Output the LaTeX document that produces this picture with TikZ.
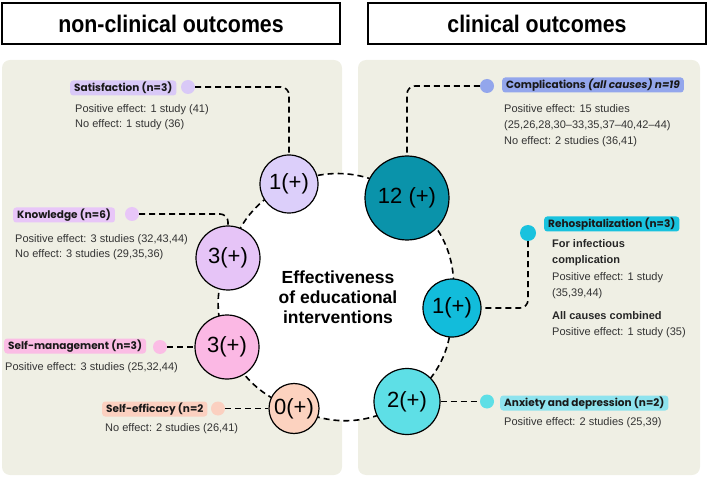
\documentclass[tikz,border=0pt]{standalone}
\usepackage{fontspec}
\usepackage{graphicx}
\setmainfont{Liberation Sans}
\newfontfamily\tagfont{Poppins}
\usetikzlibrary{positioning}
\definecolor{panelbg}{HTML}{EFEFE4}
\definecolor{desctext}{HTML}{333333}
\definecolor{csat}{HTML}{DCCFFA}
\definecolor{cknow}{HTML}{E6C4F7}
\definecolor{cselfm}{HTML}{FBB8E4}
\definecolor{cselfe}{HTML}{FCD2BF}
\definecolor{ccompl}{HTML}{0A93AA}
\definecolor{crehosp}{HTML}{12BCDB}
\definecolor{canx}{HTML}{5EDFE6}
\definecolor{tsat}{HTML}{D9C9F7}
\definecolor{tknow}{HTML}{E8C6F8}
\definecolor{tselfm}{HTML}{FBBDE5}
\definecolor{tselfe}{HTML}{FBD0C0}
\definecolor{tcompl}{HTML}{93A6EC}
\definecolor{trehosp}{HTML}{19C2DE}
\definecolor{tanx}{HTML}{8EE3EE}
\tikzset{
	panel/.style={fill=panelbg, rounded corners=8pt},
	header/.style={draw, line width=1.5pt, minimum width=338pt, minimum height=41pt,
		font=\bfseries\fontsize{24}{26}\selectfont},
	ring/.style={dash pattern=on 6pt off 4pt, line width=1.6pt},
	link/.style={ring, rounded corners=8pt},
	outc/.style={circle, draw, line width=1.2pt, inner sep=0pt, font=\fontsize{22}{24}\selectfont},
	dot/.style={circle, inner sep=0pt, minimum size=14pt},
	tag/.style={rounded corners=3pt, inner xsep=4pt, inner ysep=0pt, minimum height=15pt,
		anchor=west, text=black!90, font=\tagfont\bfseries\fontsize{10.5}{11}\selectfont},
	desc/.style={anchor=north west, inner sep=0pt, align=left, text=desctext,
		font=\fontsize{11}{15}\selectfont},
}
\begin{document}
\begin{tikzpicture}[x=1pt, y=-1pt]
		\useasboundingbox (0,0) rectangle (709,478);

		% the headers and panels
		\node[header] (hnon) at (171,23.5) {\scalebox{0.89}[1]{non-clinical outcomes}};
		\node[header] (hclin) at (537,23.5) {\scalebox{0.89}[1]{clinical outcomes}};
		\fill[panel] (2,60) rectangle (342,475);
		\fill[panel] (358,60) rectangle (700,475);

		% the ring
		\coordinate (sat) at (289,184);
		\coordinate (know) at (228,258);
		\coordinate (selfm) at (227,347);
		\coordinate (selfe) at (294,408.5);
		\coordinate (compl) at (407,198);
		\coordinate (rehosp) at (452,308);
		\coordinate (anx) at (407,401.5);
		\filldraw[ring, fill=white] (sat) to[bend left=29] (compl) to[bend left=31] (rehosp)
			to[bend left=26] (anx) to[bend left=28] (selfe) to[bend left=21] (selfm)
			to[bend left=21] (know) to[bend left=23] (sat) -- cycle;

		\node[outc, fill=csat, minimum size=58pt] (satc) at (sat) {1(+)};
		\node[outc, fill=cknow, minimum size=64pt] (knowc) at (know) {3(+)};
		\node[outc, fill=cselfm, minimum size=64pt] (selfmc) at (selfm) {3(+)};
		\node[outc, fill=cselfe, minimum size=50pt] (selfec) at (selfe) {0(+)};
		\node[outc, fill=ccompl, minimum size=84pt] (complc) at (compl) {12 (+)};
		\node[outc, fill=crehosp, minimum size=58pt] (rehospc) at (rehosp) {1(+)};
		\node[outc, fill=canx, minimum size=66pt] (anxc) at (anx) {2(+)};

		\node[font=\bfseries\fontsize{17.5}{20}\selectfont, align=center] (title) at (338,297)
			{Effectiveness\\of educational\\interventions};

		% non-clinical outcomes
		\node[tag, fill=tsat] (sattag) at (70,88) {Satisfaction (n=3)};
		\node[dot, fill=tsat] (satdot) at (188,87) {};
		\node[desc] (satdesc) at (75,104) {Positive effect: 1 study (41)\\No effect: 1 study (36)};

		\node[tag, fill=tknow] (knowtag) at (13,215) {Knowledge (n=6)};
		\node[dot, fill=tknow] (knowdot) at (132,214) {};
		\node[desc] (knowdesc) at (15,234) {Positive effect: 3 studies (32,43,44)\\No effect: 3 studies (29,35,36)};

		\node[tag, fill=tselfm] (selfmtag) at (4,346) {Self-management (n=3)};
		\node[dot, fill=tselfm] (selfmdot) at (160,347) {};
		\node[desc] (selfmdesc) at (5,362) {Positive effect: 3 studies (25,32,44)};

		\node[tag, fill=tselfe] (selfetag) at (102,409) {Self-efficacy (n=2};
		\node[dot, fill=tselfe] (selfedot) at (218,408.5) {};
		\node[desc] (selfedesc) at (105,423) {No effect: 2 studies (26,41)};

		% clinical outcomes
		\node[tag, fill=tcompl] (compltag) at (502,85) {Complications \textit{(all causes) n=19}};
		\node[dot, fill=tcompl] (compldot) at (487,86) {};
		\node[desc, font=\fontsize{11}{16}\selectfont] (compldesc) at (504,104)
			{Positive effect: 15 studies\\(25,26,28,30--33,35,37--40,42--44)\\No effect: 2 studies (36,41)};

		\node[tag, fill=trehosp] (rehosptag) at (544,224) {Rehospitalization (n=3)};
		\node[dot, fill=trehosp, minimum size=16pt] (rehospdot) at (528,233) {};
		\node[desc, font=\fontsize{11}{16.5}\selectfont] (rehospdesc) at (552,239)
			{\textbf{\color{black!85}For infectious}\\\textbf{\color{black!85}complication}\\Positive effect: 1 study\\(35,39,44)\\[6pt]
			\textbf{\color{black!85}All causes combined}\\Positive effect: 1 study (35)};

		\node[tag, fill=tanx] (anxtag) at (500,403) {Anxiety and depression (n=2)};
		\node[dot, fill=canx] (anxdot) at (487,401.5) {};
		\node[desc] (anxdesc) at (504,417) {Positive effect: 2 studies (25,39)};

		% the links
		\draw[link] (satdot) -| (satc);
		\draw[link] (knowdot) -| (knowc);
		\draw[link] (selfmdot) -- (selfmc);
		\draw[link] (selfedot) -- (selfec);
		\draw[link] (compldot) -| (complc);
		\draw[link] (rehospdot) |- (rehospc);
		\draw[link] (anxc) -- (anxdot);
	\end{tikzpicture}
\end{document}
